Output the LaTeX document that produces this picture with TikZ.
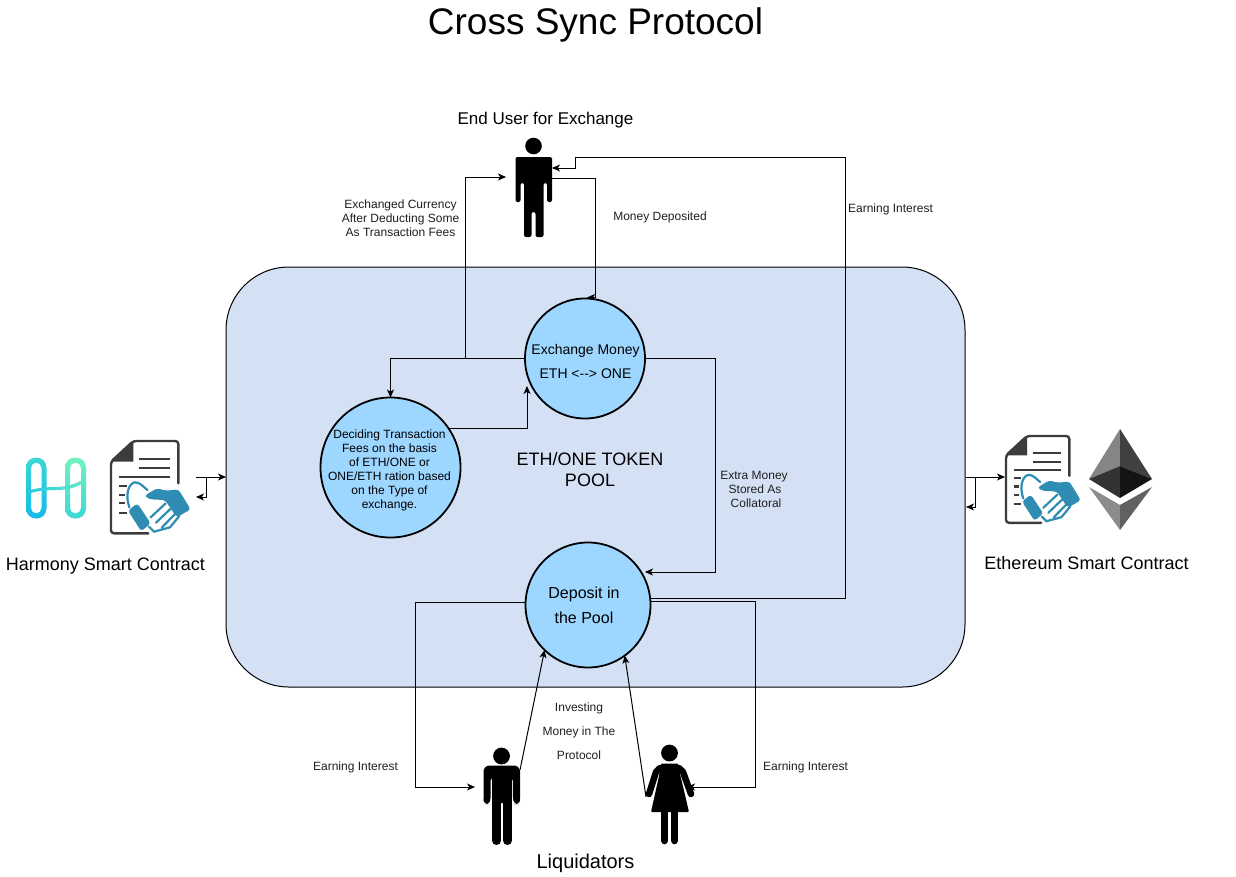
\documentclass[tikz,border=0pt]{standalone}
\usepackage{fontspec}
\setmainfont{Liberation Sans}
\usetikzlibrary{arrows.meta}
\definecolor{poolblue}{HTML}{D4E1F5}
\definecolor{circblue}{HTML}{9DD6FF}
\definecolor{docgrey}{HTML}{3C3C3C}
\definecolor{handblue}{HTML}{2F8DB3}
\definecolor{hblue}{HTML}{14B9E9}
\definecolor{hteal}{HTML}{3CD8D4}
\definecolor{hmint}{HTML}{70F3C0}
\newcommand{\fs}[2]{\fontsize{#1}{#2}\selectfont}
\pgfdeclarelayer{poollayer}
\pgfdeclarelayer{connlayer}
\pgfsetlayers{poollayer,connlayer,main}
\tikzset{
  x=1pt,y=-1pt,
  conn/.style={draw=black,line width=1pt,-{Stealth[length=8pt,width=7pt,inset=2.2pt]}},
  circ/.style={circle,draw=black,line width=1.8pt,fill=circblue,inner sep=0pt,outer sep=0pt,align=center},
  lab/.style={inner sep=0pt,align=center,text=black!88},
  fig/.style={inner sep=0pt,outer sep=0pt,minimum size=0pt},
  pics/dealdoc/.style={code={
    \begin{scope}[shift={(-111,-21)},scale=1/3]
      \fill[docgrey] (400,63) -- (333,125) -- (400,125) -- cycle;
      \draw[docgrey,line width=2.4pt,line join=round,line cap=round,rounded corners=3pt]
        (535,190) -- (535,63) -- (400,63) -- (333,125) -- (333,340) -- (445,340);
      \draw[docgrey,line width=2.2pt]
        (418,118) -- (510,118) (418,145) -- (510,145) (358,172) -- (510,172)
        (358,198) -- (380,198) (358,224) -- (376,224) (358,250) -- (374,250) (358,280) -- (380,280);
      \draw[handblue,line width=2.2pt,line cap=round]
        (388,262) .. controls (375,225) and (385,190) .. (405,187) .. controls (420,187) and (430,200) .. (442,210)
        (447,320) -- (462,335) -- (510,322) -- (538,288)
        (452,292) -- (497,250)
        (468,308) -- (512,266)
        (486,322) -- (527,280);
      \fill[handblue,rounded corners=3pt] (433,228) -- (470,205) -- (500,212) -- (535,208) -- (572,268) -- (530,292) -- (495,240) -- (450,238) -- cycle;
      \fill[handblue,rounded corners=3pt] (384,272) -- (412,250) -- (452,310) -- (424,334) -- cycle;
    \end{scope}
  }},
}
\begin{document}
\begin{tikzpicture}
\useasboundingbox (0,0) rectangle (1236,876);
\begin{pgfonlayer}{poollayer}
\fill[white] (0,0) rectangle (1236,876);
% pool
\node[draw=black,line width=1pt,fill=poolblue,rounded corners=63pt,minimum width=739pt,minimum height=420pt,inner sep=0pt,outer sep=0pt] (pool) at (595.5,477) {};
\end{pgfonlayer}

% circles
\node[circ,minimum size=120pt] (ex) at (585,358.5) {};
\node[circ,minimum size=140pt] (dec) at (390.5,467.5) {};
\node[circ,minimum size=125pt] (dep) at (588,605) {};

% anchors for figures and contracts
\node[fig] (user) at (533,190) {};
\node[fig] (man) at (501.5,800) {};
\node[fig] (woman) at (669,800) {};
\coordinate (userL) at (506,177);
\coordinate (userRa) at (552,178);
\coordinate (userRb) at (552,168);
\coordinate (manL) at (475,787);
\coordinate (manR) at (520,770);
\coordinate (womL) at (646,797);
\coordinate (womR) at (687,787);
\coordinate (hA) at (196,477);
\coordinate (hB) at (206,477);
\coordinate (hC) at (196,497);
\coordinate (hD) at (226,477);
\coordinate (eA) at (966,477);
\coordinate (eB) at (975,477);
\coordinate (eC) at (966,507);
\coordinate (eD) at (1005,477);
\coordinate (exTop) at (587,297.5);
\coordinate (exIn) at (527,386);
\coordinate (depIn) at (645,572);
\coordinate (colR) at (845.5,358.5);
\coordinate (colX) at (715.5,358.5);
\coordinate (colL) at (415.5,602);
\coordinate (colW) at (755.5,602);

% connectors
\begin{pgfonlayer}{connlayer}
\draw[conn] (userRa) -- (595.5,178) -- (595.5,297.5) -- (exTop);
\draw[conn] (dep.6) -- (colR |- dep.6) -- (845.5,157.5) -- (575.5,157.5) -- (575.5,168) -- (userRb);
\draw[conn] (ex.west) -- (465.5,358.5) -- (465.5,177) -- (userL);
\draw[conn] (ex.west) -- (390.5,358.5) -- (dec.north);
\draw[conn] (dec.34.5) -| (exIn);
\draw[conn] (ex.east) -- (colX) -- (colX |- depIn) -- (depIn);
\draw[conn] (dep.178) -- (colL |- dep.178) -- (415.5,787) -- (manL);
\draw[conn] (dep.3) -- (colW |- dep.3) -- (755.5,787) -- (womR);
\draw[conn] (manR) -- (dep.226);
\draw[conn] (womL) -- (dep.306);
\draw[conn] (hA) -- (hD);
\draw[conn] (hB) -- (206,497) -- (hC);
\draw[conn] (eA) -- (eD);
\draw[conn] (eB) -- (975,507) -- (eC);
\end{pgfonlayer}

% texts
\node[lab,text=black,font=\fs{37}{40}] (title) at (595.5,25) {Cross Sync Protocol};
\node[lab,text=black,font=\fs{17}{20}] (tuser) at (545.5,120) {End User for Exchange};
\node[lab,font=\fs{12}{14}] (t1) at (400.5,218) {Exchanged Currency\\After Deducting Some\\As Transaction Fees};
\node[lab,font=\fs{12}{14}] (t2) at (660,217) {Money Deposited};
\node[lab,font=\fs{12}{14}] (t3) at (890.5,209) {Earning Interest};
\node[lab,font=\fs{12}{14}] (t4) at (754,489) {Extra Money\\\hspace{2pt}Stored As\\\hspace{4pt}Collatoral};
\node[lab,text=black,font=\fs{14}{24}] (t5) at (585.5,361) {Exchange Money\\ETH <{-}{-}> ONE};
\node[lab,text=black,font=\fs{12}{14}] (t6) at (389.5,470) {Deciding Transaction\\Fees on the basis\\of ETH/ONE or\\ONE/ETH ration based\\on the Type of\\exchange.};
\node[lab,text=black,font=\fs{18}{21}] (t7) at (590,469.5) {ETH/ONE TOKEN\\POOL};
\node[lab,text=black,font=\fs{16}{24.5}] (t8) at (584,605.5) {Deposit in\\the Pool};
\node[lab,font=\fs{12}{24}] (t9) at (579,731) {Investing\\Money in The\\Protocol};
\node[lab,font=\fs{12}{14}] (t10) at (355.5,767) {Earning Interest};
\node[lab,font=\fs{12}{14}] (t11) at (805.5,767) {Earning Interest};
\node[lab,text=black,font=\fs{18}{21}] (t12) at (105.5,566) {Harmony Smart Contract};
\node[lab,text=black,font=\fs{18}{21}] (t13) at (1086.5,563) {Ethereum Smart Contract};
\node[lab,text=black,font=\fs{20}{24}] (t14) at (585.5,863) {Liquidators};

% end user figure
\fill[black] (533.5,146) circle (8.3);
\fill[black,rounded corners=2pt] (515.5,157) -- (552,157) -- (552,202) -- (547,202) -- (547,183) -- (543.5,183) -- (543.5,237) -- (535.5,237) -- (535.5,212) -- (531.5,212) -- (531.5,237) -- (524,237) -- (524,183) -- (520.5,183) -- (520.5,202) -- (515.5,202) -- cycle;

% man figure
\fill[black] (501.5,756) circle (8.4);
\fill[black,rounded corners=6pt] (483.5,804) -- (483.5,765.5) -- (520,765.5) -- (520,804) -- (513,804) -- (513,775) -- (512,775) -- (512,803) -- (492,803) -- (492,775) -- (490.5,775) -- (490.5,804) -- cycle;
\fill[black] (492,785) rectangle (512,803);
\draw[black,line width=9pt,line cap=round] (496.5,803) -- (496.5,840.5) (507.5,803) -- (507.5,840.5);
\fill[black] (486.8,800) circle (3.4) (516.8,800) circle (3.4);

% woman figure
\fill[black] (669.5,753) circle (8.4);
\fill[black,rounded corners=1pt] (661,763.5) -- (678,763.5) -- (680.5,776) -- (689,812) -- (651,812) -- (659,776) -- cycle;
\draw[black,line width=6.5pt,line cap=round,line join=round] (660,768) -- (656,772) -- (649,794) (679,768) -- (683,772) -- (691,794);
\draw[black,line width=7.6pt,line cap=round] (664.5,812) -- (664.5,840.5) (674.5,812) -- (674.5,840.5);

% harmony logo
\path[even odd rule,shade,shading=axis,top color=hteal,bottom color=hblue,shading angle=0,rounded corners=10pt]
   (26,457.5) rectangle (46.5,518.5) (31,462.5) [rounded corners=5.5pt] rectangle (41.5,513.5);
\path[even odd rule,shade,shading=axis,top color=hmint,bottom color=hteal,shading angle=0,rounded corners=10pt]
   (65,457.5) rectangle (86,518.5) (70,462.5) [rounded corners=5.5pt] rectangle (81,513.5);
\shade[left color=hblue!50!hteal,right color=hmint!70!hteal]
   (29,490.5) .. controls (38,487.5) and (48,487) .. (56,487) .. controls (66,487) and (76,484) .. (83,479.5)
   -- (83,483) .. controls (76,488) and (66,490) .. (56,490) .. controls (48,490) and (38,490.5) .. (29,493.5) -- cycle;

% documents
\pic at (111,441) {dealdoc};
\pic[scale=0.94] at (1006,436) {dealdoc};

% ethereum logo
\fill[black!48] (1120,429) -- (1089,479) -- (1120,466) -- cycle;
\fill[black!75] (1120,429) -- (1152,479) -- (1120,466) -- cycle;
\fill[black!80] (1120,466) -- (1089,479) -- (1120,498) -- cycle;
\fill[black!92] (1120,466) -- (1152,479) -- (1120,498) -- cycle;
\fill[black!45] (1120,530) -- (1089,487) -- (1120,505) -- cycle;
\fill[black!62] (1120,530) -- (1152,487) -- (1120,505) -- cycle;
\end{tikzpicture}
\end{document}
